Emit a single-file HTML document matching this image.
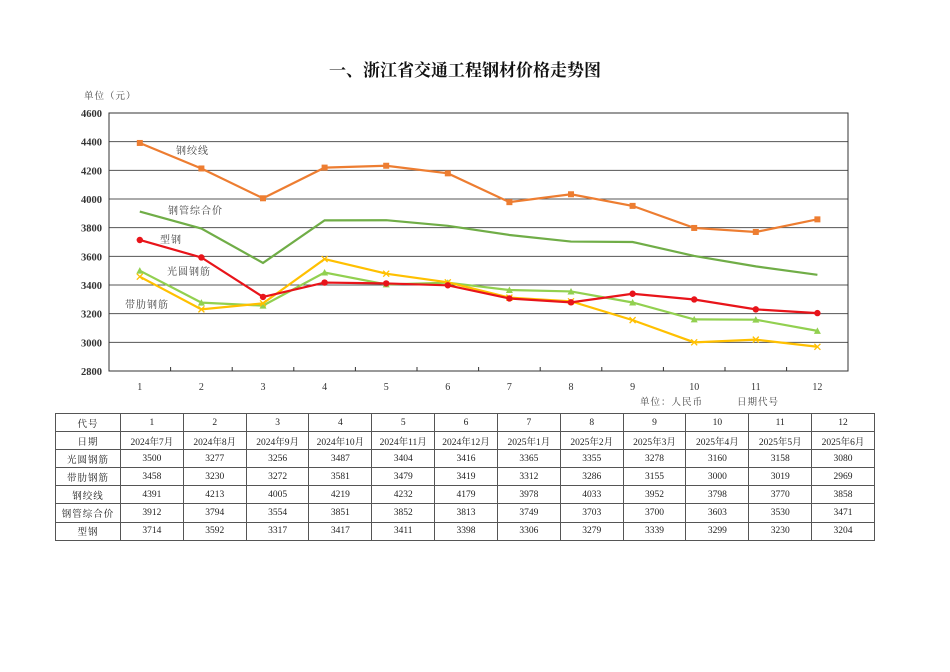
<!DOCTYPE html>
<html><head><meta charset="utf-8"><style>
body{margin:0;background:#fff;width:950px;height:672px;overflow:hidden;position:relative;font-family:"Liberation Serif","Noto Serif CJK SC",serif}
svg{position:absolute;left:0;top:0}
table{position:absolute;left:55px;top:413px;border-collapse:collapse;font-size:9.5px;color:#222;width:820px;table-layout:fixed}
td{border:1px solid #555;height:17.1px;padding:0;text-align:center;white-space:nowrap;overflow:hidden}
td:first-child{width:64px;letter-spacing:1px}
</style></head><body>
<svg width="950" height="672" id="s" font-family="Liberation Serif, Noto Serif CJK SC, serif">
<text x="465" y="76" text-anchor="middle" font-size="17" font-weight="bold" fill="#111">一、浙江省交通工程钢材价格走势图</text>
<text x="84" y="99" font-size="9.5" fill="#444" letter-spacing="1">单位（元）</text>
<g id="g"></g>
<text x="640" y="405" font-size="9.5" fill="#444" letter-spacing="1">单位：人民币</text>
<text x="737" y="405" font-size="9.5" fill="#444" letter-spacing="1">日期代号</text>
<g font-size="10" fill="#444" letter-spacing="1">
<text x="176" y="154">钢绞线</text>
<text x="168" y="214">钢管综合价</text>
<text x="160" y="243">型钢</text>
<text x="167" y="275">光圆钢筋</text>
<text x="125" y="308">带肋钢筋</text>
</g>
</svg>
<table>
<tr><td>代号</td><td>1</td><td>2</td><td>3</td><td>4</td><td>5</td><td>6</td><td>7</td><td>8</td><td>9</td><td>10</td><td>11</td><td>12</td></tr>
<tr><td>日期</td><td>2024年7月</td><td>2024年8月</td><td>2024年9月</td><td>2024年10月</td><td>2024年11月</td><td>2024年12月</td><td>2025年1月</td><td>2025年2月</td><td>2025年3月</td><td>2025年4月</td><td>2025年5月</td><td>2025年6月</td></tr>
<tr><td>光圆钢筋</td><td>3500</td><td>3277</td><td>3256</td><td>3487</td><td>3404</td><td>3416</td><td>3365</td><td>3355</td><td>3278</td><td>3160</td><td>3158</td><td>3080</td></tr>
<tr><td>带肋钢筋</td><td>3458</td><td>3230</td><td>3272</td><td>3581</td><td>3479</td><td>3419</td><td>3312</td><td>3286</td><td>3155</td><td>3000</td><td>3019</td><td>2969</td></tr>
<tr><td>钢绞线</td><td>4391</td><td>4213</td><td>4005</td><td>4219</td><td>4232</td><td>4179</td><td>3978</td><td>4033</td><td>3952</td><td>3798</td><td>3770</td><td>3858</td></tr>
<tr><td>钢管综合价</td><td>3912</td><td>3794</td><td>3554</td><td>3851</td><td>3852</td><td>3813</td><td>3749</td><td>3703</td><td>3700</td><td>3603</td><td>3530</td><td>3471</td></tr>
<tr><td>型钢</td><td>3714</td><td>3592</td><td>3317</td><td>3417</td><td>3411</td><td>3398</td><td>3306</td><td>3279</td><td>3339</td><td>3299</td><td>3230</td><td>3204</td></tr>
</table>
<script>
var g=document.getElementById('g'),h='';
function Y(v){return 371-(v-2800)*258/1800}
function X(i){return 139.8+61.6*i}
for(var v=2800;v<=4600;v+=200){var y=Y(v);
 if(v>2800&&v<4600)h+='<line x1="109" x2="848" y1="'+y+'" y2="'+y+'" stroke="#555" stroke-width="1"/>';
 h+='<text x="102" y="'+(y+4)+'" text-anchor="end" font-size="10.5" font-weight="bold" fill="#333">'+v+'</text>';}
h+='<rect x="109" y="113" width="739" height="258" fill="none" stroke="#333" stroke-width="1"/>';
for(var i=1;i<12;i++){var x=109+61.6*i;h+='<line x1="'+x+'" x2="'+x+'" y1="371" y2="367" stroke="#333"/>';}
for(var i=0;i<12;i++)h+='<text x="'+X(i)+'" y="390" text-anchor="middle" font-size="10" fill="#333">'+(i+1)+'</text>';
var S=[
["#70ad47",[3912,3794,3554,3851,3852,3813,3749,3703,3700,3603,3530,3471],""],
["#ed7d31",[4391,4213,4005,4219,4232,4179,3978,4033,3952,3798,3770,3858],"sq"],
["#92d050",[3500,3277,3256,3487,3404,3416,3365,3355,3278,3160,3158,3080],"tri"],
["#ffc000",[3458,3230,3272,3581,3479,3419,3312,3286,3155,3000,3019,2969],"x"],
["#e8141a",[3714,3592,3317,3417,3411,3398,3306,3279,3339,3299,3230,3204],"c"]];
S.forEach(function(s){var p=s[1].map(function(v,i){return X(i)+','+Y(v)}).join(' ');
 h+='<polyline points="'+p+'" fill="none" stroke="'+s[0]+'" stroke-width="2.2"/>';
 s[1].forEach(function(v,i){var x=X(i),y=Y(v),c=s[0];
  if(s[2]=='sq')h+='<rect x="'+(x-3)+'" y="'+(y-3)+'" width="6" height="6" fill="'+c+'"/>';
  if(s[2]=='c')h+='<circle cx="'+x+'" cy="'+y+'" r="3.2" fill="'+c+'"/>';
  if(s[2]=='tri')h+='<polygon points="'+x+','+(y-3.5)+' '+(x-3.5)+','+(y+3)+' '+(x+3.5)+','+(y+3)+'" fill="'+c+'"/>';
  if(s[2]=='x')h+='<path d="M'+(x-3)+' '+(y-3)+'L'+(x+3)+' '+(y+3)+'M'+(x+3)+' '+(y-3)+'L'+(x-3)+' '+(y+3)+'" stroke="'+c+'" stroke-width="1.3"/>';
 });});
g.innerHTML=h;
</script>
</body></html>
